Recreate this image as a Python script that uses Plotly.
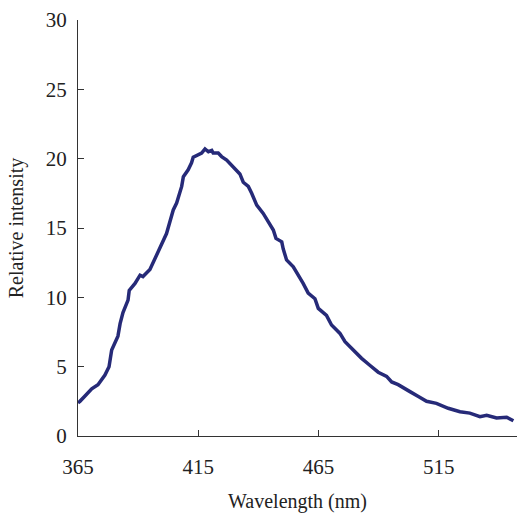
import plotly.graph_objects as go

wavelength = [365.0, 365.8, 368.0, 370.7, 373.3, 376.2, 377.9, 379.0, 381.6, 382.5,
              383.7, 385.8, 386.3, 388.7, 390.8, 392.0, 394.9, 397.7, 400.4, 401.8,
              404.6, 406.0, 408.1, 408.8, 410.8, 412.2, 412.9, 415.0, 416.4, 417.8,
              419.2, 420.6, 421.2, 423.3, 424.7, 426.8, 428.9, 430.3, 432.3, 433.7,
              435.8, 437.2, 439.3, 442.0, 444.1, 446.2, 447.3, 449.7, 450.3, 451.7,
              454.5, 456.6, 458.6, 460.7, 463.5, 464.9, 468.3, 470.4, 473.9, 476.0,
              479.4, 482.9, 486.3, 489.8, 493.3, 495.4, 498.1, 501.6, 503.0, 506.5,
              509.9, 514.0, 518.9, 523.8, 527.9, 532.1, 534.9, 539.0, 543.2, 546.0]
intensity = [2.4, 2.5, 2.9, 3.4, 3.7, 4.4, 5.0, 6.2, 7.2, 8.1,
             8.9, 9.8, 10.5, 11.0, 11.6, 11.5, 12.0, 13.0, 14.0, 14.6,
             16.3, 16.8, 18.0, 18.7, 19.2, 19.7, 20.1, 20.3, 20.4, 20.7,
             20.5, 20.6, 20.4, 20.4, 20.15, 19.9, 19.5, 19.2, 18.9, 18.3,
             18.0, 17.5, 16.65, 16.05, 15.45, 14.85, 14.25, 14.0, 13.5, 12.7,
             12.2, 11.6, 11.0, 10.3, 9.9, 9.2, 8.7, 8.0, 7.4, 6.8,
             6.2, 5.6, 5.1, 4.6, 4.3, 3.9, 3.7, 3.3, 3.2, 2.85,
             2.5, 2.35, 2.0, 1.75, 1.65, 1.4, 1.5, 1.3, 1.35, 1.1]

x_ticks = [365, 415, 465, 515]
y_ticks = [0, 5, 10, 15, 20, 25, 30]

fig = go.Figure()
fig.add_trace(go.Scatter(x=wavelength, y=intensity, mode="lines",
                         line=dict(color="#262a78", width=3.5), showlegend=False))

font = dict(family="Liberation Serif, Times New Roman, serif", size=21, color="#222222")

fig.update_layout(
    width=517, height=513,
    margin=dict(l=78, r=0, t=20, b=77),
    paper_bgcolor="white", plot_bgcolor="white",
    font=font,
    xaxis=dict(range=[365, 547.5], tickvals=x_ticks, ticks="inside", ticklen=6,
               tickcolor="#333333", showline=True, linecolor="#333333", linewidth=1.3,
               showgrid=False, zeroline=False, ticklabelstandoff=12, automargin=False,
               title=dict(text="Wavelength (nm)", font=dict(size=20), standoff=16)),
    yaxis=dict(range=[0, 30], tickvals=y_ticks, ticks="inside", ticklen=6,
               tickcolor="#333333", showline=True, linecolor="#333333", linewidth=1.3,
               showgrid=False, zeroline=False, ticklabelstandoff=6, automargin=False,
               title=dict(text="Relative intensity", font=dict(size=20), standoff=16)),
)

fig.write_html("out.html", config={"displayModeBar": False},
               post_script="document.body.style.margin='0';document.body.style.padding='0';")
